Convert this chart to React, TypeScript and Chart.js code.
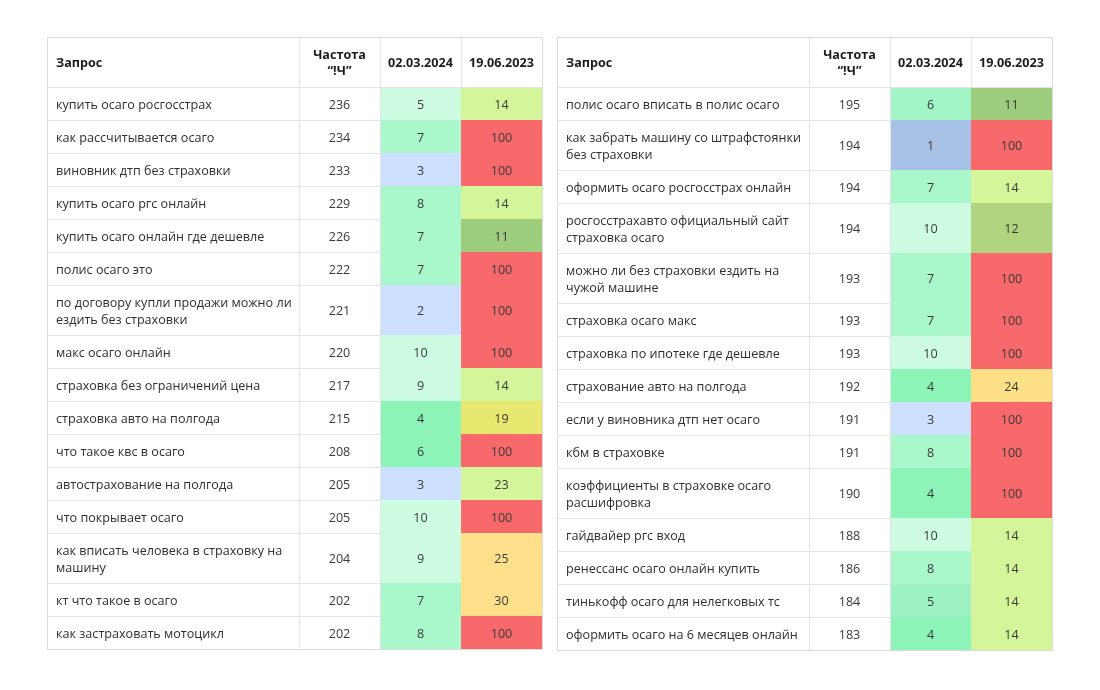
import React, { useEffect, useRef } from "react";
import { Chart, registerables } from "chart.js";

Chart.register(...registerables);

// ---------- data ----------
const HEADERS = ["Запрос", "Частота\n“!Ч”", "02.03.2024", "19.06.2023"];

const LEFT_QUERIES = [
  "купить осаго росгосстрах",
  "как рассчитывается осаго",
  "виновник дтп без страховки",
  "купить осаго ргс онлайн",
  "купить осаго онлайн где дешевле",
  "полис осаго это",
  "по договору купли продажи можно ли ездить без страховки",
  "макс осаго онлайн",
  "страховка без ограничений цена",
  "страховка авто на полгода",
  "что такое квс в осаго",
  "автострахование на полгода",
  "что покрывает осаго",
  "как вписать человека в страховку на машину",
  "кт что такое в осаго",
  "как застраховать мотоцикл",
];
const LEFT_FREQ = [236, 234, 233, 229, 226, 222, 221, 220, 217, 215, 208, 205, 205, 204, 202, 202];
const LEFT_D1 = [5, 7, 3, 8, 7, 7, 2, 10, 9, 4, 6, 3, 10, 9, 7, 8];
const LEFT_D2 = [14, 100, 100, 14, 11, 100, 100, 100, 14, 19, 100, 23, 100, 25, 30, 100];

const RIGHT_QUERIES = [
  "полис осаго вписать в полис осаго",
  "как забрать машину со штрафстоянки без страховки",
  "оформить осаго росгосстрах онлайн",
  "росгосстрахавто официальный сайт страховка осаго",
  "можно ли без страховки ездить на чужой машине",
  "страховка осаго макс",
  "страховка по ипотеке где дешевле",
  "страхование авто на полгода",
  "если у виновника дтп нет осаго",
  "кбм в страховке",
  "коэффициенты в страховке осаго расшифровка",
  "гайдвайер ргс вход",
  "ренессанс осаго онлайн купить",
  "тинькофф осаго для нелегковых тс",
  "оформить осаго на 6 месяцев онлайн",
];
const RIGHT_FREQ = [195, 194, 194, 194, 193, 193, 193, 192, 191, 191, 190, 188, 186, 184, 183];
const RIGHT_D1 = [6, 1, 7, 10, 7, 7, 10, 4, 3, 8, 4, 10, 8, 5, 4];
const RIGHT_D2 = [11, 100, 14, 12, 100, 100, 100, 24, 100, 100, 100, 14, 14, 14, 14];

// ---------- styles ----------
const RED = "#f7696b";
const LIME = "#d4f59a";
const GREEN_D = "#9ecd7e";
const GREEN_M = "#b1d47f";
const YELLOW = "#e8e870";
const ORANGE = "#fee08a";
const MINT_L = "#cdfce3";
const MINT_M = "#a9f7cb";
const MINT_D = "#8cf4b7";
const BLUE_L = "#cde0fd";
const BLUE_D = "#a8c1e6";

const LEFT_C1 = [MINT_L, MINT_M, BLUE_L, MINT_M, MINT_M, MINT_M, BLUE_L, MINT_L, MINT_L, MINT_D, MINT_D, BLUE_L, MINT_L, MINT_L, MINT_M, MINT_M];
const LEFT_C2 = [LIME, RED, RED, LIME, GREEN_D, RED, RED, RED, LIME, YELLOW, RED, LIME, RED, ORANGE, ORANGE, RED];
const RIGHT_C1 = ["#a2f5c6", BLUE_D, MINT_M, MINT_L, MINT_M, MINT_M, MINT_L, MINT_D, BLUE_L, MINT_M, MINT_D, MINT_L, MINT_M, "#9cf2c2", MINT_D];
const RIGHT_C2 = [GREEN_D, RED, LIME, GREEN_M, RED, RED, RED, "#fde086", RED, RED, RED, LIME, LIME, LIME, LIME];

const FONT = '"Open Sans", "Noto Sans", sans-serif';
const FONT_SIZE = 12.6;
const COL_W = [252, 81, 81, 81];
const TABLE_TOP = 37;
const HEADER_H = 50;
const ROW_H = 33;
const LINE_H = 17;
const PAD = 9;
const GRID = "#e4e4e4";

type TableDef = {
  left: number;
  queries: string[];
  freq: number[];
  d1: number[];
  d2: number[];
  c1: string[];
  c2: string[];
};

const TABLES: TableDef[] = [
  { left: 47, queries: LEFT_QUERIES, freq: LEFT_FREQ, d1: LEFT_D1, d2: LEFT_D2, c1: LEFT_C1, c2: LEFT_C2 },
  { left: 557, queries: RIGHT_QUERIES, freq: RIGHT_FREQ, d1: RIGHT_D1, d2: RIGHT_D2, c1: RIGHT_C1, c2: RIGHT_C2 },
];

function wrapText(ctx: CanvasRenderingContext2D, text: string, maxW: number): string[] {
  const words = text.split(" ");
  const lines: string[] = [];
  let cur = "";
  for (const w of words) {
    const test = cur ? cur + " " + w : w;
    if (cur && ctx.measureText(test).width > maxW) {
      lines.push(cur);
      cur = w;
    } else {
      cur = test;
    }
  }
  if (cur) lines.push(cur);
  return lines;
}

const tablePlugin = {
  id: "tablePlugin",
  afterDraw(chart: any) {
    const ctx: CanvasRenderingContext2D = chart.ctx;
    const xs = chart.scales.x;
    const ys = chart.scales.y;
    const X = (v: number) => xs.getPixelForValue(v);
    const Y = (v: number) => ys.getPixelForValue(v);

    for (const t of TABLES) {
      const colX: number[] = [t.left];
      COL_W.forEach((w) => colX.push(colX[colX.length - 1] + w));

      ctx.save();
      ctx.font = `${FONT_SIZE}px ${FONT}`;
      const wrapped = t.queries.map((q) => wrapText(ctx, q, COL_W[0] - 7));
      const rowY: number[] = [TABLE_TOP + HEADER_H];
      wrapped.forEach((ls) => rowY.push(rowY[rowY.length - 1] + ROW_H + LINE_H * (ls.length - 1)));
      const bottom = rowY[rowY.length - 1];

      // background
      ctx.fillStyle = "#ffffff";
      ctx.fillRect(X(colX[0]), Y(TABLE_TOP), X(colX[4]) - X(colX[0]), Y(bottom) - Y(TABLE_TOP));

      // colored cells
      for (let i = 0; i < t.queries.length; i++) {
        const y0 = Y(rowY[i]);
        const y1 = Y(rowY[i + 1]);
        ctx.fillStyle = t.c1[i];
        ctx.fillRect(X(colX[2]), y0, X(colX[3]) - X(colX[2]), y1 - y0);
        ctx.fillStyle = t.c2[i];
        ctx.fillRect(X(colX[3]), y0, X(colX[4]) - X(colX[3]), y1 - y0);
      }

      // grid lines
      ctx.strokeStyle = GRID;
      ctx.lineWidth = 1;
      ctx.beginPath();
      for (let i = 1; i < rowY.length - 1; i++) {
        const y = Math.round(Y(rowY[i])) + 0.5;
        ctx.moveTo(X(colX[0]), y);
        ctx.lineTo(X(colX[2]), y);
      }
      const hy = Math.round(Y(rowY[0])) + 0.5;
      ctx.moveTo(X(colX[0]), hy);
      ctx.lineTo(X(colX[4]), hy);
      for (let c = 1; c <= 3; c++) {
        const x = Math.round(X(colX[c])) + 0.5;
        ctx.moveTo(x, Y(TABLE_TOP));
        ctx.lineTo(x, c < 3 ? Y(bottom) : Y(rowY[0]));
      }
      ctx.stroke();

      // outer border
      ctx.strokeStyle = "#dcdcdc";
      ctx.strokeRect(
        Math.round(X(colX[0])) + 0.5,
        Math.round(Y(TABLE_TOP)) + 0.5,
        Math.round(X(colX[4]) - X(colX[0])),
        Math.round(Y(bottom) - Y(TABLE_TOP))
      );

      // header text
      ctx.fillStyle = "#1c1c1c";
      ctx.font = `bold ${FONT_SIZE}px ${FONT}`;
      ctx.textBaseline = "middle";
      const hMid = (Y(TABLE_TOP) + Y(rowY[0])) / 2;
      HEADERS.forEach((h, c) => {
        const lines = h.split("\n");
        const startY = hMid - ((lines.length - 1) * 16) / 2;
        lines.forEach((ln, k) => {
          if (c === 0) {
            ctx.textAlign = "left";
            ctx.fillText(ln, X(colX[0]) + PAD, startY + k * 16 + 1.5);
          } else {
            ctx.textAlign = "center";
            ctx.fillText(ln, (X(colX[c]) + X(colX[c + 1])) / 2, startY + k * 16 + 1.5);
          }
        });
      });

      // body text
      ctx.font = `${FONT_SIZE}px ${FONT}`;
      for (let i = 0; i < t.queries.length; i++) {
        const mid = (Y(rowY[i]) + Y(rowY[i + 1])) / 2 + 1.5;
        const ls = wrapped[i];
        ctx.fillStyle = "#2f2f2f";
        ctx.textAlign = "left";
        const sy = mid - ((ls.length - 1) * LINE_H) / 2;
        ls.forEach((ln, k) => ctx.fillText(ln, X(colX[0]) + PAD, sy + k * LINE_H));
        ctx.fillStyle = "#3a3a3a";
        ctx.textAlign = "center";
        ctx.fillText(String(t.freq[i]), (X(colX[1]) + X(colX[2])) / 2, mid);
        ctx.fillText(String(t.d1[i]), (X(colX[2]) + X(colX[3])) / 2, mid);
        ctx.fillText(String(t.d2[i]), (X(colX[3]) + X(colX[4])) / 2, mid);
      }
      ctx.restore();
    }
  },
};

export default function App() {
  const ref = useRef<HTMLCanvasElement | null>(null);
  useEffect(() => {
    if (!ref.current) return;
    const chart = new Chart(ref.current, {
      type: "scatter",
      data: { datasets: [{ data: [], pointRadius: 0 }] },
      options: {
        responsive: false,
        animation: false,
        devicePixelRatio: 1,
        layout: { padding: 0 },
        plugins: { legend: { display: false }, tooltip: { enabled: false } },
        scales: {
          x: { type: "linear", min: 0, max: 1100, display: false },
          y: { type: "linear", min: 0, max: 690, reverse: true, display: false },
        },
      },
      plugins: [tablePlugin],
    });
    return () => chart.destroy();
  }, []);
  return (
    <div style={{ position: "fixed", left: 0, top: 0, width: 1100, height: 690, background: "#ffffff" }}>
      <canvas ref={ref} width={1100} height={690} style={{ display: "block" }} />
    </div>
  );
}
